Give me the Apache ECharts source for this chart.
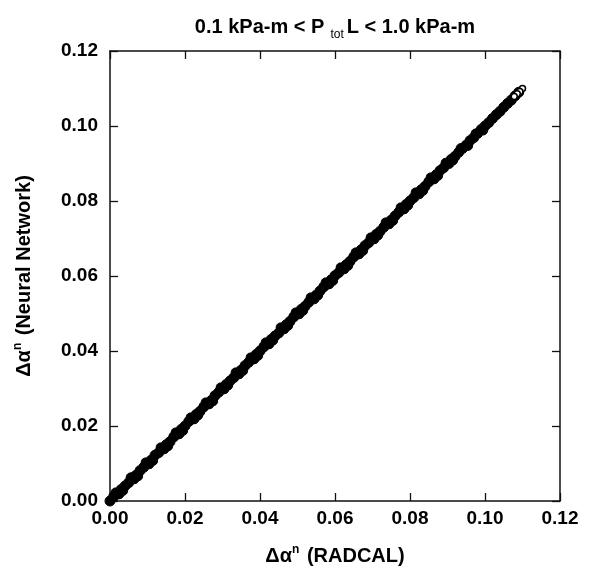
<!DOCTYPE html>
<html><head><meta charset="utf-8">
<script src="https://cdn.jsdelivr.net/npm/echarts@6/dist/echarts.min.js"></script>
<style>html,body{margin:0;padding:0;background:#fff}#c{width:593px;height:572px}</style>
</head><body><div id="c"></div>
<script>
// Tick labels
const tickValues = [0.00, 0.02, 0.04, 0.06, 0.08, 0.10, 0.12];
// RADCAL values (x) read along the band
const radcal = [0.000,0.001,0.002,0.003,0.004,0.005,0.006,0.007,0.008,0.009,
0.010,0.011,0.012,0.013,0.014,0.015,0.016,0.017,0.018,0.019,
0.020,0.021,0.022,0.023,0.024,0.025,0.026,0.027,0.028,0.029,
0.030,0.031,0.032,0.033,0.034,0.035,0.036,0.037,0.038,0.039,
0.040,0.041,0.042,0.043,0.044,0.045,0.046,0.047,0.048,0.049,
0.050,0.051,0.052,0.053,0.054,0.055,0.056,0.057,0.058,0.059,
0.060,0.061,0.062,0.063,0.064,0.065,0.066,0.067,0.068,0.069,
0.070,0.071,0.072,0.073,0.074,0.075,0.076,0.077,0.078,0.079,
0.080,0.081,0.082,0.083,0.084,0.085,0.086,0.087,0.088,0.089,
0.090,0.091,0.092,0.093,0.094,0.095,0.096,0.097,0.098,0.099,
0.100,0.101,0.102,0.103,0.104,0.105,0.106,0.107,0.108,0.109];
// Neural network values (y)
const neural = [0.0000,0.0012,0.0019,0.0031,0.0040,0.0049,0.0062,0.0069,0.0081,0.0090,
0.0101,0.0109,0.0122,0.0129,0.0141,0.0150,0.0158,0.0171,0.0179,0.0191,
0.0200,0.0212,0.0219,0.0231,0.0239,0.0251,0.0260,0.0268,0.0281,0.0290,
0.0299,0.0311,0.0320,0.0329,0.0341,0.0349,0.0361,0.0370,0.0379,0.0391,
0.0400,0.0411,0.0419,0.0431,0.0440,0.0448,0.0461,0.0470,0.0479,0.0491,
0.0500,0.0511,0.0519,0.0530,0.0541,0.0549,0.0560,0.0571,0.0579,0.0590,
0.0601,0.0609,0.0621,0.0630,0.0639,0.0651,0.0659,0.0670,0.0681,0.0689,
0.0700,0.0711,0.0719,0.0730,0.0741,0.0749,0.0760,0.0770,0.0779,0.0791,
0.0800,0.0809,0.0821,0.0830,0.0839,0.0851,0.0859,0.0870,0.0881,0.0889,
0.0900,0.0911,0.0919,0.0930,0.0940,0.0949,0.0961,0.0969,0.0980,0.0991,
0.1000,0.1009,0.1020,0.1030,0.1039,0.1050,0.1060,0.1069,0.1080,0.1090];
// Extra scattered points on both sides of the band
const spreadX = [0.0015,0.0035,0.0055,0.0075,0.0095,0.0115,0.0135,0.0155,0.0175,0.0195,
0.0215,0.0235,0.0255,0.0275,0.0295,0.0315,0.0335,0.0355,0.0375,0.0395,
0.0415,0.0435,0.0455,0.0475,0.0495,0.0515,0.0535,0.0555,0.0575,0.0595,
0.0615,0.0635,0.0655,0.0675,0.0695,0.0715,0.0735,0.0755,0.0775,0.0795,
0.0815,0.0835,0.0855,0.0875,0.0895,0.0915,0.0935,0.0955,0.0975,0.0995,
0.0025,0.0065,0.0105,0.0145,0.0185,0.0225,0.0265,0.0305,0.0345,0.0385,
0.0425,0.0465,0.0505,0.0545,0.0585,0.0625,0.0665,0.0705,0.0745,0.0785,
0.0825,0.0865,0.0905];
const spreadY = [0.0023,0.0027,0.0063,0.0066,0.0103,0.0107,0.0143,0.0146,0.0183,0.0187,
0.0223,0.0228,0.0263,0.0266,0.0303,0.0308,0.0343,0.0347,0.0383,0.0387,
0.0423,0.0428,0.0463,0.0467,0.0503,0.0507,0.0543,0.0548,0.0583,0.0587,
0.0623,0.0627,0.0663,0.0667,0.0703,0.0708,0.0743,0.0747,0.0783,0.0788,
0.0823,0.0827,0.0863,0.0867,0.0902,0.0908,0.0941,0.0947,0.0980,0.0988,
0.0018,0.0058,0.0098,0.0138,0.0178,0.0218,0.0258,0.0298,0.0338,0.0378,
0.0418,0.0458,0.0498,0.0538,0.0578,0.0618,0.0658,0.0698,0.0738,0.0778,
0.0818,0.0858,0.0899];
// Open circles visible at the upper end of the band
const endX = [0.1100,0.1093,0.1086,0.1078];
const endY = [0.1100,0.1092,0.1086,0.1079];

const mainData = radcal.map((x, i) => [x, neural[i]]);
const spreadData = spreadX.map((x, i) => [x, spreadY[i]]);
const endData = endX.map((x, i) => [x, endY[i]]);

const font = 'Liberation Sans, Arial, sans-serif';
const chart = echarts.init(document.getElementById('c'), null, {renderer: 'canvas'});
const axisCommon = {
  type: 'value', min: 0, max: 0.12, interval: 0.02,
  axisLine: {show: true, onZero: false, lineStyle: {color: '#111', width: 1.5}},
  axisTick: {show: true, inside: true, length: 8, lineStyle: {color: '#111', width: 1.3}},
  splitLine: {show: false}
};
const nameStyle = {fontFamily: font, fontWeight: 'bold', fontSize: 20, color: '#000',
  rich: {sup: {fontFamily: font, fontWeight: 'bold', fontSize: 12, color: '#000', padding: [0, 2, 12, 0]}}};
const labelStyle = {fontFamily: font, fontWeight: 'bold', fontSize: 19, color: '#000', formatter: v => v.toFixed(2)};
chart.setOption({
  animation: false,
  backgroundColor: '#fff',
  title: {
    text: '0.1 kPa-m < P{sub|tot}L < 1.0 kPa-m',
    left: 330, textAlign: 'center', top: 8,
    textStyle: {
      fontFamily: font, fontWeight: 'bold', fontSize: 20, color: '#000',
      rich: {
        sub: {fontFamily: font, fontWeight: 'normal', fontSize: 12, color: '#000', padding: [16, 3, 0, 6]}
      }
    }
  },
  grid: {left: 110, top: 51, width: 450, height: 450},
  xAxis: [
    Object.assign({}, axisCommon, {
      position: 'bottom',
      name: 'Δα{sup|n} (RADCAL)', nameLocation: 'middle', nameGap: 43,
      nameTextStyle: nameStyle,
      axisLabel: Object.assign({margin: 8}, labelStyle)
    }),
    Object.assign({}, axisCommon, {position: 'top', axisLabel: {show: false}})
  ],
  yAxis: [
    Object.assign({}, axisCommon, {
      position: 'left',
      name: 'Δα{sup|n} (Neural Network)', nameLocation: 'middle', nameGap: 74,
      nameTextStyle: nameStyle,
      axisLabel: Object.assign({margin: 12}, labelStyle)
    }),
    Object.assign({}, axisCommon, {position: 'right', axisLabel: {show: false}})
  ],
  series: [
    {type: 'scatter', xAxisIndex: 0, yAxisIndex: 0, data: mainData, symbol: 'circle', symbolSize: 10,
      itemStyle: {color: '#000', borderColor: '#000', borderWidth: 1, opacity: 1}},
    {type: 'scatter', xAxisIndex: 0, yAxisIndex: 0, data: spreadData, symbol: 'circle', symbolSize: 9,
      itemStyle: {color: '#000', borderColor: '#000', borderWidth: 1, opacity: 1}},
    {type: 'scatter', xAxisIndex: 0, yAxisIndex: 0, data: endData, symbol: 'circle', symbolSize: 6,
      itemStyle: {color: '#fff', borderColor: '#000', borderWidth: 1.5, opacity: 1}}
  ]
});
</script></body></html>
